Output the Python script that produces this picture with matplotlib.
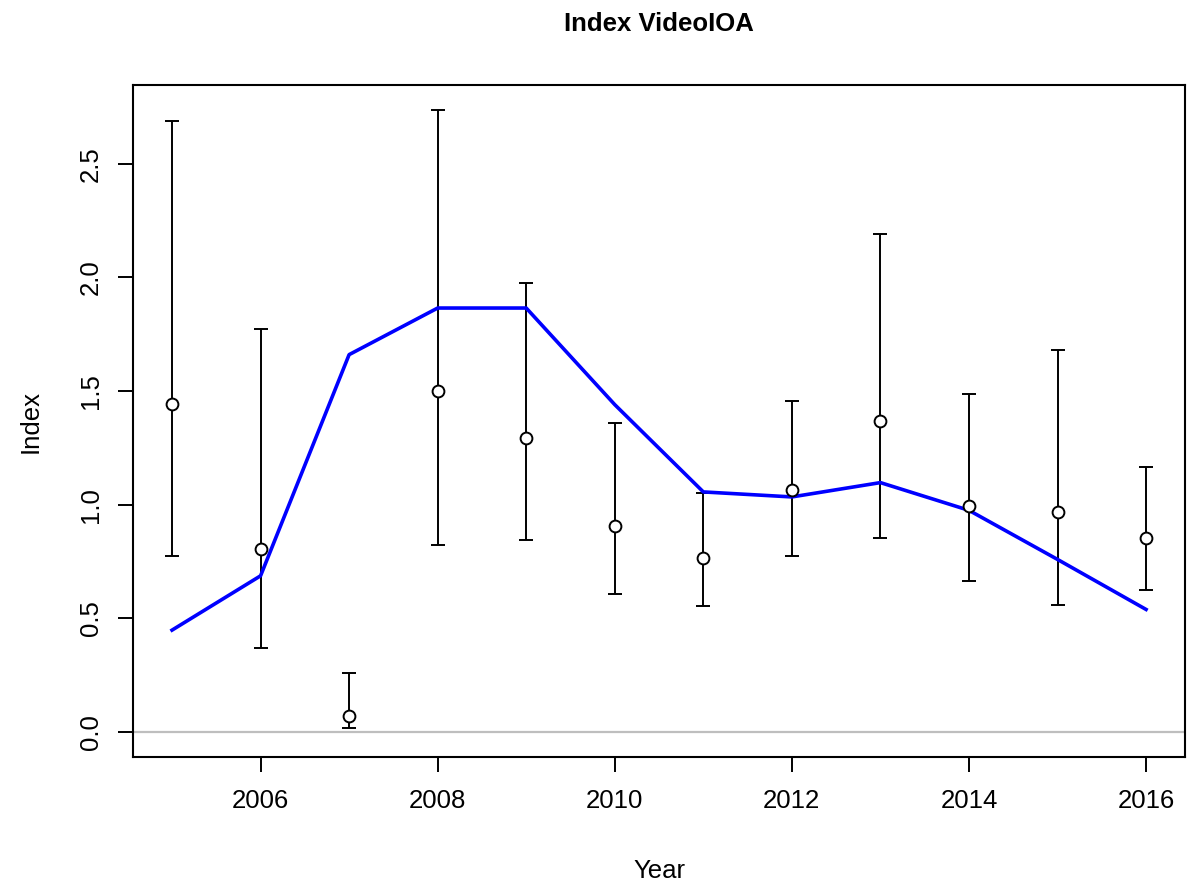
import matplotlib
matplotlib.use('Agg')
from matplotlib import pyplot as plt
import numpy as np

plt.rcParams['font.family'] = ['Liberation Sans', 'DejaVu Sans']

# Survey index with confidence intervals, plus the model fit
years = [2005, 2006, 2007, 2008, 2009, 2010, 2011, 2012, 2013, 2014, 2015, 2016]
index_obs = [1.445, 0.807, 0.071, 1.500, 1.294, 0.906, 0.766, 1.065, 1.369, 0.994, 0.968, 0.854]
index_low = [0.773, 0.368, 0.019, 0.823, 0.845, 0.605, 0.552, 0.776, 0.852, 0.665, 0.557, 0.625]
index_high = [2.687, 1.773, 0.258, 2.737, 1.977, 1.361, 1.052, 1.454, 2.191, 1.488, 1.681, 1.166]
index_fit = [0.448, 0.687, 1.660, 1.865, 1.865, 1.440, 1.056, 1.034, 1.097, 0.975, 0.759, 0.539]

obs = np.array(index_obs)
err = [obs - np.array(index_low), np.array(index_high) - obs]

fig = plt.figure(figsize=(11.88, 8.84), dpi=100)
ax = fig.add_axes([0.112, 0.1437, 0.8855, 0.7601])

ax.axhline(0, color='#bebebe', lw=1.6, zorder=1)

ax.errorbar(years, index_obs, yerr=err, fmt='none', ecolor='black',
            elinewidth=1.4, capsize=5, capthick=1.4, zorder=2)
ax.plot(years, index_fit, color='#0000ff', lw=2.6, zorder=3)
ax.plot(years, index_obs, 'o', ms=8.5, mfc='white', mec='black', mew=1.4, zorder=4)

ax.set_xlim(2004.56, 2016.44)
ax.set_ylim(-0.11, 2.846)
ax.set_xticks([2006, 2008, 2010, 2012, 2014, 2016])
ax.set_yticks([0.0, 0.5, 1.0, 1.5, 2.0, 2.5])
ax.set_yticklabels(['0.0', '0.5', '1.0', '1.5', '2.0', '2.5'], rotation=90, va='center')

ax.tick_params(direction='out', length=11, width=1.4, labelsize=18.5, pad=11)
ax.tick_params(axis='x', pad=12)
for s in ax.spines.values():
    s.set_linewidth(1.5)

ax.set_title('Index VideoIOA', fontsize=18.5, fontweight='bold', pad=39)
ax.set_xlabel('Year', fontsize=18.5, labelpad=33)
ax.set_ylabel('Index', fontsize=18.5, labelpad=26)

fig.savefig('out.png', dpi=100)
